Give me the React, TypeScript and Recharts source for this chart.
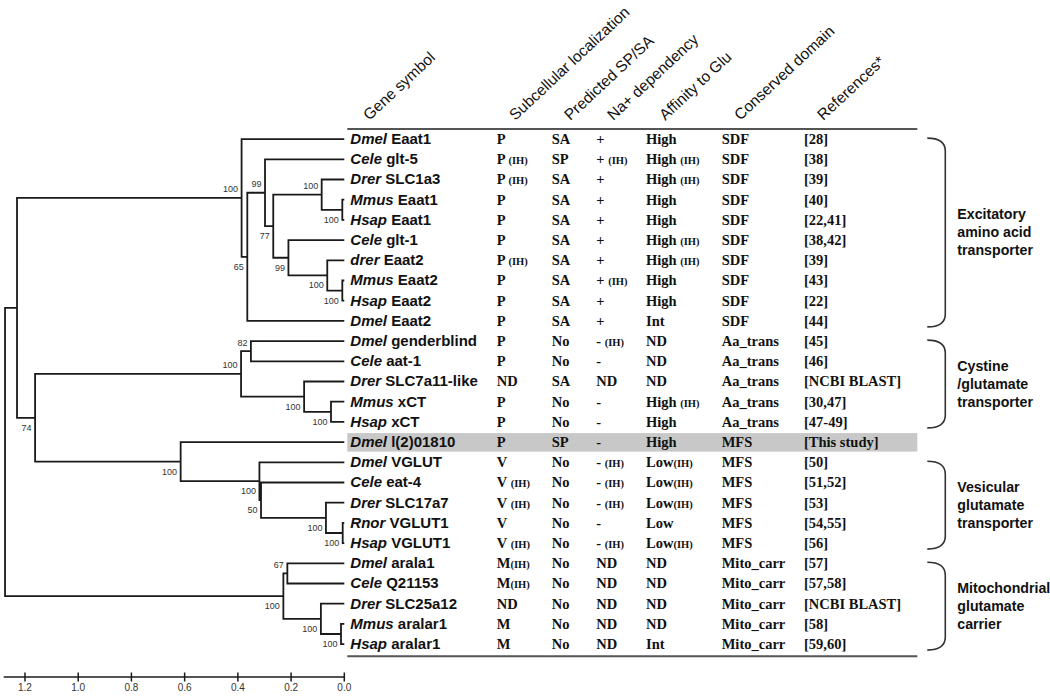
import React from "react";
import {
  ComposedChart,
  XAxis,
  YAxis,
  Line,
  Scatter,
  ReferenceArea,
  ReferenceLine,
} from "recharts";

// ---- leaves / table rows (top to bottom) ----
const species = [
  "Dmel", "Cele", "Drer", "Mmus", "Hsap", "Cele", "drer", "Mmus", "Hsap", "Dmel",
  "Dmel", "Cele", "Drer", "Mmus", "Hsap", "Dmel", "Dmel", "Cele", "Drer", "Rnor",
  "Hsap", "Dmel", "Cele", "Drer", "Mmus", "Hsap",
];
const genes = [
  "Eaat1", "glt-5", "SLC1a3", "Eaat1", "Eaat1", "glt-1", "Eaat2", "Eaat2", "Eaat2", "Eaat2",
  "genderblind", "aat-1", "SLC7a11-like", "xCT", "xCT", "l(2)01810", "VGLUT", "eat-4", "SLC17a7", "VGLUT1",
  "VGLUT1", "arala1", "Q21153", "SLC25a12", "aralar1", "aralar1",
];
const localization = [
  "P", "P (IH)", "P (IH)", "P", "P", "P", "P (IH)", "P", "P", "P",
  "P", "P", "ND", "P", "P", "P", "V", "V (IH)", "V (IH)", "V",
  "V (IH)", "M(IH)", "M(IH)", "ND", "M", "M",
];
const spsa = [
  "SA", "SP", "SA", "SA", "SA", "SA", "SA", "SA", "SA", "SA",
  "No", "No", "SA", "No", "No", "SP", "No", "No", "No", "No",
  "No", "No", "No", "No", "No", "No",
];
const naDep = [
  "+", "+ (IH)", "+", "+", "+", "+", "+", "+ (IH)", "+", "+",
  "- (IH)", "-", "ND", "-", "-", "-", "- (IH)", "- (IH)", "- (IH)", "-",
  "- (IH)", "ND", "ND", "ND", "ND", "ND",
];
const affinity = [
  "High", "High (IH)", "High (IH)", "High", "High", "High (IH)", "High (IH)", "High", "High", "Int",
  "ND", "ND", "ND", "High (IH)", "High", "High", "Low(IH)", "Low(IH)", "Low(IH)", "Low",
  "Low(IH)", "ND", "ND", "ND", "ND", "Int",
];
const domain = [
  "SDF", "SDF", "SDF", "SDF", "SDF", "SDF", "SDF", "SDF", "SDF", "SDF",
  "Aa_trans", "Aa_trans", "Aa_trans", "Aa_trans", "Aa_trans", "MFS", "MFS", "MFS", "MFS", "MFS",
  "MFS", "Mito_carr", "Mito_carr", "Mito_carr", "Mito_carr", "Mito_carr",
];
const refs = [
  "[28]", "[38]", "[39]", "[40]", "[22,41]", "[38,42]", "[39]", "[43]", "[22]", "[44]",
  "[45]", "[46]", "[NCBI BLAST]", "[30,47]", "[47-49]", "[This study]", "[50]", "[51,52]", "[53]", "[54,55]",
  "[56]", "[57]", "[57,58]", "[NCBI BLAST]", "[58]", "[59,60]",
];
const highlightRow = 15;

const headers = [
  "Gene symbol",
  "Subcellular localization",
  "Predicted SP/SA",
  "Na+ dependency",
  "Affinity to Glu",
  "Conserved domain",
  "References*",
];

// ---- tree: internal node distance (substitutions/site from tips) and children ----
const nodeDist: Record<string, number> = {
  root: 1.275, up: 1.23, A: 0.386, B: 0.3645, C: 0.298, D: 0.267, E: 0.085, G: 0.0075,
  F: 0.21, H: 0.064, I: 0.0075, X: 1.162, J: 0.388, K: 0.351, L: 0.151, M: 0.05,
  N: 0.615, O: 0.319, P: 0.313, Q: 0.069, R: 0.006, S: 0.229, U: 0.214, T: 0.088, V: 0.0124,
};
const nodeKids: Record<string, (string | number)[]> = {
  root: ["up", "S"], up: ["A", "X"], A: [0, "B"], B: ["C", 9], C: [1, "D"], D: ["E", "F"],
  E: [2, "G"], G: [3, 4], F: [5, "H"], H: [6, "I"], I: [7, 8], X: ["J", "N"],
  J: ["K", "L"], K: [10, 11], L: [12, "M"], M: [13, 14], N: [15, "O"], O: [16, "P"],
  P: [17, "Q"], Q: [18, "R"], R: [19, 20], S: ["U", "T"], U: [21, 22], T: [23, "V"], V: [24, 25],
};
const support: Record<string, number> = {
  A: 100, B: 65, C: 99, D: 77, E: 100, G: 100, F: 99, H: 100, I: 100, X: 74, J: 100, K: 82,
  L: 100, M: 100, N: 100, O: 100, P: 50, Q: 100, R: 100, S: 100, U: 67, T: 100, V: 100,
};
const supportAbove = ["A", "C", "E", "J", "K", "U"];

// ---- clade brackets ----
const groupRows = [[0, 9], [10, 14], [16, 20], [21, 25]];
const groupLabels = [
  ["Excitatory", "amino acid", "transporter"],
  ["Cystine", "/glutamate", "transporter"],
  ["Vesicular", "glutamate", "transporter"],
  ["Mitochondrial", "glutamate", "carrier"],
];

const axisTicks = [0, 0.2, 0.4, 0.6, 0.8, 1.0, 1.2];

const SANS = "'Liberation Sans', Arial, sans-serif";
const SERIF = "'Liberation Serif', 'Times New Roman', serif";
const INK = "#1a1a1a";

const rowOf = (k: string | number): number =>
  typeof k === "number" ? k : (rowOf(nodeKids[k][0]) + rowOf(nodeKids[k][1])) / 2;
const distOf = (k: string | number): number => (typeof k === "number" ? 0 : nodeDist[k]);

const treePath: { d: number; r: number | null }[] = [];
Object.keys(nodeKids).forEach((n) => {
  const [a, b] = nodeKids[n];
  treePath.push(
    { d: distOf(a), r: rowOf(a) },
    { d: nodeDist[n], r: rowOf(a) },
    { d: nodeDist[n], r: rowOf(b) },
    { d: distOf(b), r: rowOf(b) },
    { d: nodeDist[n], r: null }
  );
});

const supportData = Object.keys(support).map((n) => ({
  d: nodeDist[n],
  r: rowOf(n),
  v: support[n],
  above: supportAbove.includes(n),
}));

const rows = genes.map((g, i) => ({
  d: 0,
  r: i,
  sp: species[i],
  gene: g,
  loc: localization[i],
  spsa: spsa[i],
  na: naDep[i],
  aff: affinity[i],
  dom: domain[i],
  ref: refs[i],
}));

function Val({ x, y, v }: { x: number; y: number; v: string }) {
  const i = v.indexOf("(IH)");
  const main = i < 0 ? v : v.slice(0, i);
  return (
    <text x={x} y={y} fontFamily={SERIF} fontWeight="bold" fontSize={14.5} fill="#111">
      {main}
      {i >= 0 && <tspan fontSize={10.5}>(IH)</tspan>}
    </text>
  );
}

function RowShape(props: any) {
  const { cx, cy, payload } = props;
  const y = cy + 5;
  return (
    <g>
      {payload.r === highlightRow && (
        <rect x={cx + 3} y={cy - 9} width={570} height={18.5} fill="#c8c8c8" />
      )}
      <text x={cx + 6} y={y} fontFamily={SANS} fontWeight="bold" fontSize={15} fill="#111">
        <tspan fontStyle="italic">{payload.sp}</tspan> {payload.gene}
      </text>
      <Val x={cx + 152.5} y={y} v={payload.loc} />
      <Val x={cx + 207.5} y={y} v={payload.spsa} />
      <Val x={cx + 252} y={y} v={payload.na} />
      <Val x={cx + 301.7} y={y} v={payload.aff} />
      <Val x={cx + 377.4} y={y} v={payload.dom} />
      <Val x={cx + 459.7} y={y} v={payload.ref} />
    </g>
  );
}

function SupportShape(props: any) {
  const { cx, cy, payload } = props;
  return (
    <text
      x={cx - 3.5}
      y={payload.above ? cy - 5.5 : cy + 13}
      textAnchor="end"
      fontFamily={SANS}
      fontSize={9}
      fill="#333"
    >
      {payload.v}
    </text>
  );
}

const headerOffsets = [25, 171, 226, 269, 321, 396, 479];

function TopRule(props: any) {
  const { x2, y1 } = props;
  return (
    <g>
      <line x1={x2 + 3} x2={x2 + 573} y1={y1} y2={y1} stroke="#555" strokeWidth={2} />
      {headers.map((h, i) => {
        const hx = x2 + headerOffsets[i];
        const hy = y1 - 8;
        return (
          <text
            key={h}
            x={hx}
            y={hy}
            transform={`rotate(-43 ${hx} ${hy})`}
            fontFamily={SANS}
            fontSize={15.5}
            fill="#111"
          >
            {h}
          </text>
        );
      })}
    </g>
  );
}

function BottomRule(props: any) {
  const { x2, y1 } = props;
  return <line x1={x2 + 3} x2={x2 + 573} y1={y1} y2={y1} stroke="#555" strokeWidth={2} />;
}

function makeBracket(labels: string[]) {
  return (props: any) => {
    const { x, y, width, height } = props;
    const x0 = x + width + 583;
    const xr = x0 + 18;
    const top = y - 1;
    const bot = y + height + 6;
    const rad = 13;
    const mid = (top + bot) / 2;
    return (
      <g>
        <path
          d={`M${x0},${top} Q${xr},${top} ${xr},${top + rad} L${xr},${bot - rad} Q${xr},${bot} ${x0},${bot}`}
          fill="none"
          stroke="#333"
          strokeWidth={1.6}
        />
        <text fontFamily={SANS} fontWeight="bold" fontSize={14.2} fill="#111">
          {labels.map((l, i) => (
            <tspan key={l} x={x0 + 30} y={mid + 5 + (i - (labels.length - 1) / 2) * 18}>
              {l}
            </tspan>
          ))}
        </text>
      </g>
    );
  };
}

function AxisTick(props: any) {
  const { x, y, payload } = props;
  return (
    <g>
      <line x1={x} x2={x} y1={y - 4.5} y2={y + 4.5} stroke={INK} strokeWidth={1.5} />
      <text x={x} y={y + 14} textAnchor="middle" fontFamily={SANS} fontSize={10} fill="#333">
        {Number(payload.value).toFixed(1)}
      </text>
    </g>
  );
}

export default function App() {
  return (
    <div style={{ position: "absolute", left: 0, top: 0, width: 1050, height: 696, background: "#fff" }}>
      <ComposedChart
        width={1050}
        height={696}
        margin={{ top: 129, right: 705.7, bottom: 0, left: 3.7 }}
      >
        <XAxis
          type="number"
          dataKey="d"
          domain={[0, 1.28]}
          reversed
          ticks={axisTicks}
          interval={0}
          height={19}
          tickSize={0}
          tickMargin={0}
          tickLine={false}
          axisLine={{ stroke: INK, strokeWidth: 1.5 }}
          tick={<AxisTick />}
        />
        <YAxis
          type="number"
          dataKey="r"
          domain={[-0.5, 26.63]}
          reversed
          hide
          width={0}
        />
        <ReferenceLine y={-0.5} shape={<TopRule />} />
        <ReferenceLine y={25.6} shape={<BottomRule />} />
        {groupRows.map(([a, b], i) => (
          <ReferenceArea
            key={i}
            y1={a}
            y2={b}
            ifOverflow="visible"
            shape={makeBracket(groupLabels[i])}
          />
        ))}
        <Scatter data={rows} dataKey="r" shape={<RowShape />} isAnimationActive={false} />
        <Line
          data={treePath}
          dataKey="r"
          type="linear"
          stroke={INK}
          strokeWidth={1.8}
          dot={false}
          activeDot={false}
          connectNulls={false}
          isAnimationActive={false}
        />
        <Scatter data={supportData} dataKey="r" shape={<SupportShape />} isAnimationActive={false} />
      </ComposedChart>
    </div>
  );
}
